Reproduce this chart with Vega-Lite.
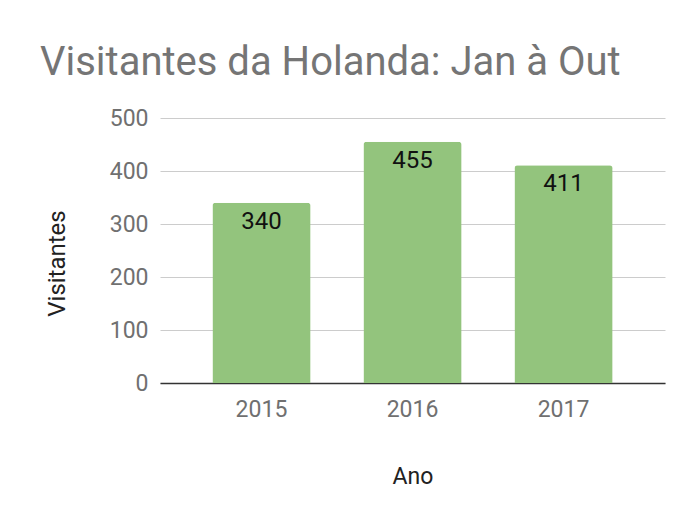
{
  "$schema": "https://vega.github.io/schema/vega-lite/v6.json",
  "width": 505,
  "height": 265,
  "autosize": "none",
  "padding": {"left": 160, "top": 118, "right": 18, "bottom": 132},
  "background": "white",
  "config": {
    "view": {"stroke": null},
    "font": "Roboto"
  },
  "title": {
    "text": "Visitantes da Holanda: Jan à Out",
    "anchor": "start",
    "frame": "group",
    "dx": -120,
    "fontSize": 40,
    "font": "Roboto",
    "fontWeight": "normal",
    "color": "#757575",
    "offset": 24
  },
  "data": {
    "values": [
      {"Ano": "2015", "Visitantes": 340},
      {"Ano": "2016", "Visitantes": 455},
      {"Ano": "2017", "Visitantes": 411}
    ]
  },
  "encoding": {
    "x": {
      "field": "Ano",
      "type": "nominal",
      "scale": {"paddingInner": 0.35, "paddingOuter": 0.347},
      "axis": {
        "title": "Ano",
        "labelAngle": 0,
        "labelFontSize": 23,
        "labelColor": "#707070",
        "labelPadding": 15,
        "ticks": false,
        "domainColor": "#333333",
        "domainWidth": 1.5,
        "titleFontSize": 23,
        "titleFontWeight": "normal",
        "titleColor": "#222222",
        "titlePadding": 44
      }
    },
    "y": {
      "field": "Visitantes",
      "type": "quantitative",
      "scale": {"domain": [0, 500]},
      "axis": {
        "title": "Visitantes",
        "values": [0, 100, 200, 300, 400, 500],
        "labelFontSize": 23,
        "labelColor": "#707070",
        "labelPadding": 12,
        "ticks": false,
        "domain": false,
        "gridColor": "#cccccc",
        "titleFontSize": 24,
        "titleFontWeight": "normal",
        "titleColor": "#222222",
        "titlePadding": 40,
        "titleY": 145
      }
    }
  },
  "layer": [
    {
      "mark": {"type": "bar", "color": "#93c47d", "cornerRadiusTopLeft": 3, "cornerRadiusTopRight": 3}
    },
    {
      "mark": {"type": "text", "baseline": "top", "dy": 7, "fontSize": 24, "color": "#111111", "font": "Roboto"},
      "encoding": {"text": {"field": "Visitantes", "type": "quantitative"}}
    }
  ]
}
